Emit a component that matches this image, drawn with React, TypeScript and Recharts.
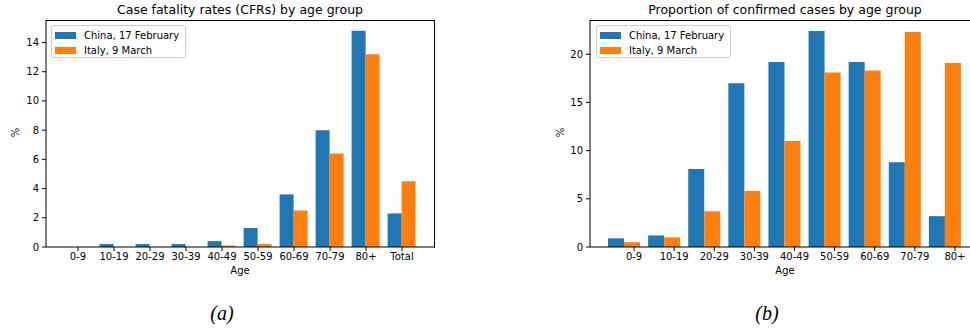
import React from 'react';
import { BarChart, Bar, XAxis, YAxis } from 'recharts';

// matplotlib default colours
const colors = {
  china: '#1f77b4',
  italy: '#ff7f0e',
  axis: '#000000',
  text: '#000000',
};

const FONT = '"DejaVu Sans", sans-serif';

// (a) case fatality rates
const CFR_GROUPS = ['0-9', '10-19', '20-29', '30-39', '40-49', '50-59', '60-69', '70-79', '80+', 'Total'];
const CFR_CHINA = [0, 0.2, 0.2, 0.2, 0.4, 1.3, 3.6, 8.0, 14.8, 2.3];
const CFR_ITALY = [0, 0, 0, 0, 0.1, 0.2, 2.5, 6.4, 13.2, 4.5];
const CFR_TICKS = [0, 2, 4, 6, 8, 10, 12, 14];

// (b) proportion of confirmed cases
const CASE_GROUPS = ['0-9', '10-19', '20-29', '30-39', '40-49', '50-59', '60-69', '70-79', '80+'];
const CASE_CHINA = [0.9, 1.2, 8.1, 17.0, 19.2, 22.4, 19.2, 8.8, 3.2];
const CASE_ITALY = [0.5, 1.0, 3.7, 5.8, 11.0, 18.1, 18.3, 22.3, 19.1];
const CASE_TICKS = [0, 5, 10, 15, 20];

const SERIES_NAMES = { china: 'China, 17 February', italy: 'Italy, 9 March' };

const buildRows = (groups: string[], china: number[], italy: number[]) =>
  groups.map((g, i) => ({ group: g, china: china[i], italy: italy[i] }));

/**
 * Legend box in matplotlib style
 */
const LegendBox: React.FC<{ left: number; top: number }> = ({ left, top }) => (
  <div
    style={{
      position: 'absolute',
      left,
      top,
      width: 133,
      height: 31,
      border: '1px solid #cccccc',
      borderRadius: 3,
      background: 'rgba(255,255,255,0.8)',
      fontFamily: FONT,
      fontSize: 10,
      color: colors.text,
    }}
  >
    {(['china', 'italy'] as const).map((k, i) => (
      <div key={k} style={{ position: 'absolute', left: 3, top: 3 + i * 15, height: 12, display: 'flex', alignItems: 'center' }}>
        <div style={{ width: 21, height: 7, background: colors[k] }} />
        <span style={{ marginLeft: 8, whiteSpace: 'nowrap' }}>{SERIES_NAMES[k]}</span>
      </div>
    ))}
  </div>
);

/**
 * Tick drawn by hand so it can be shifted off the group centre
 */
const ShiftedTick = (shift: number) => (props: any) => {
  const { x, y, payload } = props;
  return (
    <g transform={`translate(${x + shift},${y})`}>
      <line x1={0} x2={0} y1={-6} y2={-2} stroke={colors.axis} />
      <text x={0} y={0} dy="0.71em" textAnchor="middle" fontSize={10} fontFamily={FONT} fill={colors.text}>
        {payload.value}
      </text>
    </g>
  );
};

/**
 * One panel: grouped bars, box drawn on top
 */
const Panel: React.FC<{
  groups: string[];
  china: number[];
  italy: number[];
  ticks: number[];
  yMax: number;
  left: number;
  width: number;
  rightMargin: number;
  tickShift?: number;
}> = ({ groups, china, italy, ticks, yMax, left, width, rightMargin, tickShift }) => {
  const data = buildRows(groups, china, italy);
  const tickStyle = { fontSize: 10, fontFamily: FONT, fill: colors.text };
  const plotLeft = 60;
  const plotTop = 20;
  const plotH = 227;
  return (
    <div style={{ position: 'absolute', left, top: 0 }}>
      <BarChart
        width={width}
        height={290}
        data={data}
        margin={{ top: plotTop, right: rightMargin, left: plotLeft - 40, bottom: 13 }}
        barCategoryGap="10%"
        barGap={0}
      >
        <XAxis
          dataKey="group"
          height={30}
          padding={{ left: 14, right: 14 }}
          stroke={colors.axis}
          tickSize={4}
          tickMargin={2}
          tickLine={tickShift ? false : { stroke: colors.axis }}
          tick={tickShift ? ShiftedTick(tickShift) : tickStyle}
          interval={0}
        />
        <YAxis
          width={40}
          domain={[0, yMax]}
          ticks={ticks}
          stroke={colors.axis}
          tickSize={4}
          tickMargin={3}
          tick={tickStyle}
        />
        <Bar dataKey="china" fill={colors.china} isAnimationActive={false} />
        <Bar dataKey="italy" fill={colors.italy} isAnimationActive={false} />
      </BarChart>
      {/* top and right spines */}
      <div
        style={{
          position: 'absolute',
          left: plotLeft - 0.5,
          top: plotTop - 0.5,
          width: width - plotLeft - rightMargin,
          height: plotH,
          borderTop: '1px solid #000',
          borderRight: '1px solid #000',
          pointerEvents: 'none',
        }}
      />
    </div>
  );
};

const label = (text: string, x: number, y: number, extra: React.CSSProperties = {}) => (
  <div
    style={{
      position: 'absolute',
      left: x - 200,
      top: y,
      width: 400,
      textAlign: 'center',
      fontFamily: FONT,
      fontSize: 10,
      color: colors.text,
      whiteSpace: 'nowrap',
      ...extra,
    }}
  >
    {text}
  </div>
);

export default function App() {
  return (
    <div style={{ position: 'absolute', left: 0, top: 0, width: 970, height: 329, overflow: 'hidden', background: '#fff' }}>
      {/* left panel: plot x 46..434 */}
      <Panel
        groups={CFR_GROUPS}
        china={CFR_CHINA}
        italy={CFR_ITALY}
        ticks={CFR_TICKS}
        yMax={15.54}
        left={-14}
        width={464}
        rightMargin={16}
      />
      {/* right panel: plot x 590..979, cut by the page edge */}
      <Panel
        groups={CASE_GROUPS}
        china={CASE_CHINA}
        italy={CASE_ITALY}
        ticks={CASE_TICKS}
        yMax={23.55}
        left={530}
        width={470}
        rightMargin={21}
        tickShift={10}
      />

      {label('Case fatality rates (CFRs) by age group', 240, 2, { fontSize: 12.5 })}
      {label('Proportion of confirmed cases by age group', 785, 2, { fontSize: 12.5 })}

      {label('Age', 240, 265)}
      {label('Age', 785, 265)}

      {label('%', 15, 127, { transform: 'rotate(-90deg)', width: 400 })}
      {label('%', 560, 127, { transform: 'rotate(-90deg)', width: 400 })}

      <LegendBox left={51} top={25} />
      <LegendBox left={596} top={25} />

      {label('(a)', 222, 302, { fontFamily: '"Liberation Serif", serif', fontStyle: 'italic', fontSize: 20 })}
      {label('(b)', 767, 302, { fontFamily: '"Liberation Serif", serif', fontStyle: 'italic', fontSize: 20 })}
    </div>
  );
}
